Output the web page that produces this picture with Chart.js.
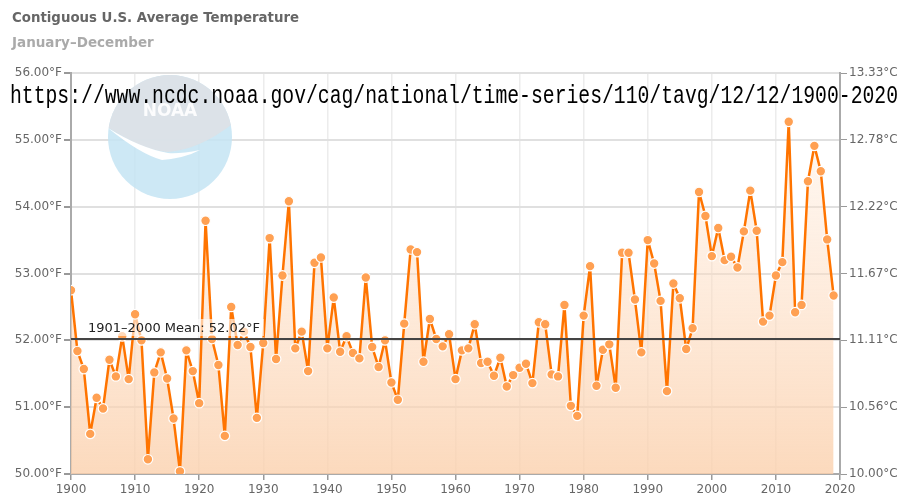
<!DOCTYPE html>
<html>
<head>
<meta charset="utf-8">
<script src="https://cdn.jsdelivr.net/npm/chart.js@4.4.1/dist/chart.umd.min.js"></script>
<style>
  html, body { margin: 0; padding: 0; background: #fff; }
  #wrap { width: 911px; height: 496px; }
</style>
</head>
<body>
<div id="wrap"><canvas id="tempChart" width="911" height="496"></canvas></div>
<script>
// Contiguous U.S. annual average temperature (°F), 1900-2019
const years = [];
for (let y = 1900; y <= 2019; y++) years.push(y);

const tempsF = [
  52.75, 51.84, 51.57, 50.60, 51.14, 50.98, 51.71, 51.46, 52.06, 51.42,
  52.39, 52.00, 50.22, 51.52, 51.82, 51.43, 50.83, 50.04, 51.85, 51.54,
  51.06, 53.79, 52.02, 51.63, 50.57, 52.50, 51.93, 52.13, 51.90, 50.84,
  51.96, 53.53, 51.72, 52.97, 54.08, 51.88, 52.13, 51.54, 53.16, 53.24,
  51.88, 52.64, 51.83, 52.06, 51.81, 51.73, 52.94, 51.90, 51.60, 52.00,
  51.37, 51.11, 52.25, 53.36, 53.32, 51.68, 52.32, 52.02, 51.91, 52.09,
  51.42, 51.85, 51.88, 52.24, 51.66, 51.68, 51.47, 51.74, 51.31, 51.48,
  51.59, 51.65, 51.36, 52.27, 52.24, 51.49, 51.46, 52.53, 51.02, 50.87,
  52.37, 53.11, 51.32, 51.86, 51.94, 51.29, 53.31, 53.31, 52.61, 51.82,
  53.50, 53.15, 52.59, 51.24, 52.85, 52.63, 51.87, 52.18, 54.22, 53.86,
  53.26, 53.68, 53.20, 53.25, 53.09, 53.63, 54.24, 53.64, 52.28, 52.37,
  52.97, 53.17, 55.27, 52.42, 52.53, 54.38, 54.91, 54.53, 53.51, 52.67
];

const meanF = 52.02;
const meanLabel = '1901–2000 Mean: 52.02°F';
const xTicks = [1900, 1910, 1920, 1930, 1940, 1950, 1960, 1970, 1980, 1990, 2000, 2010, 2020];
const yTicksF = [50, 51, 52, 53, 54, 55, 56];

const titleText = 'Contiguous U.S. Average Temperature';
const subtitleText = 'January–December';
const sourceUrl = 'https://www.ncdc.noaa.gov/cag/national/time-series/110/tavg/12/12/1900-2020';

const FONT = '"DejaVu Sans", sans-serif';

function toC(f) {
  return ((f - 32) * 5 / 9).toFixed(2) + '°C';
}

// watermark logo behind the line
const logoPlugin = {
  id: 'logo',
  beforeDatasetsDraw(chart) {
    const ctx = chart.ctx;
    const cx = 170, cy = 137, r = 62;
    ctx.save();
    ctx.beginPath();
    ctx.arc(cx, cy, r, 0, Math.PI * 2);
    ctx.fillStyle = 'rgba(196,228,243,0.85)';
    ctx.fill();
    ctx.clip();
    // upper grey part
    ctx.beginPath();
    ctx.moveTo(100, 122);
    ctx.quadraticCurveTo(140, 150, 168, 152);
    ctx.quadraticCurveTo(200, 150, 235, 122);
    ctx.lineTo(235, 60);
    ctx.lineTo(100, 60);
    ctx.closePath();
    ctx.fillStyle = 'rgba(220,225,231,0.95)';
    ctx.fill();
    // bird
    ctx.beginPath();
    ctx.moveTo(108, 128);
    ctx.quadraticCurveTo(140, 154, 162, 160);
    ctx.quadraticCurveTo(185, 158, 200, 150);
    ctx.quadraticCurveTo(180, 154, 168, 153);
    ctx.quadraticCurveTo(140, 148, 108, 128);
    ctx.fillStyle = '#ffffff';
    ctx.fill();
    ctx.font = 'bold 17px ' + FONT;
    ctx.textAlign = 'center';
    ctx.textBaseline = 'middle';
    ctx.fillStyle = 'rgba(255,255,255,0.9)';
    ctx.fillText('NOAA', cx, 112);
    ctx.restore();
  }
};

// mean line, titles and the source url
const overlayPlugin = {
  id: 'overlay',
  afterDatasetsDraw(chart) {
    const ctx = chart.ctx;
    const area = chart.chartArea;
    const y = chart.scales.y.getPixelForValue(meanF);
    ctx.save();
    ctx.strokeStyle = '#444';
    ctx.lineWidth = 2;
    ctx.beginPath();
    ctx.moveTo(area.left, y);
    ctx.lineTo(area.right, y);
    ctx.stroke();

    ctx.font = '13px ' + FONT;
    const w = ctx.measureText(meanLabel).width;
    ctx.fillStyle = 'rgba(255,255,255,0.6)';
    ctx.fillRect(86, y - 20, w + 6, 17);
    ctx.fillStyle = '#222';
    ctx.textBaseline = 'alphabetic';
    ctx.fillText(meanLabel, 88, y - 7);
    ctx.restore();
  },
  afterDraw(chart) {
    const ctx = chart.ctx;
    ctx.save();
    ctx.textBaseline = 'alphabetic';
    ctx.font = 'bold 14px ' + FONT;
    ctx.fillStyle = '#666';
    ctx.fillText(titleText, 12, 22, 287);
    ctx.font = 'bold 13.5px ' + FONT;
    ctx.fillStyle = '#aaa';
    ctx.fillText(subtitleText, 12, 47, 143);

    ctx.font = '25px "Liberation Mono", monospace';
    ctx.fillStyle = '#000';
    ctx.fillText(sourceUrl, 10, 103, 888);
    ctx.restore();
  }
};

const ctx = document.getElementById('tempChart').getContext('2d');

const points = years.map((yr, i) => ({ x: yr, y: tempsF[i] }));

const tempChart = new Chart(ctx, {
  type: 'line',
  data: {
    datasets: [{
      label: 'Average Temperature',
      data: points,
      borderColor: '#ff7400',
      borderWidth: 2.5,
      borderJoinStyle: 'round',
      tension: 0,
      pointRadius: 4.8,
      pointBackgroundColor: '#ffa052',
      pointBorderColor: '#ffffff',
      pointBorderWidth: 1.2,
      fill: 'start',
      backgroundColor: function (context) {
        const a = context.chart.chartArea;
        if (!a) return 'rgba(252,210,175,0.5)';
        const g = context.chart.ctx.createLinearGradient(0, a.top, 0, a.bottom);
        g.addColorStop(0, 'rgba(255,230,210,0.2)');
        g.addColorStop(1, 'rgba(251,208,172,0.8)');
        return g;
      }
    }]
  },
  options: {
    responsive: false,
    animation: false,
    layout: { padding: { top: 73, left: 0, right: 0, bottom: 0 } },
    plugins: {
      legend: { display: false },
      tooltip: { enabled: false }
    },
    scales: {
      x: {
        type: 'linear',
        min: 1900,
        max: 2020,
        afterBuildTicks: scale => { scale.ticks = xTicks.map(v => ({ value: v })); },
        afterFit: scale => { scale.height = 22; },
        grid: { color: '#ececec', tickColor: '#999', tickLength: 6, lineWidth: 1.5 },
        border: { color: '#aaa', width: 2 },
        ticks: {
          color: '#666',
          font: { family: FONT, size: 12 },
          padding: 3,
          maxRotation: 0,
          callback: v => String(v)
        }
      },
      y: {
        position: 'left',
        min: 50,
        max: 56,
        afterBuildTicks: scale => { scale.ticks = yTicksF.map(v => ({ value: v })); },
        afterFit: scale => { scale.width = 71; },
        grid: { color: '#e0e0e0', tickColor: '#999', tickLength: 7, lineWidth: 2 },
        border: { color: '#aaa', width: 2 },
        ticks: {
          color: '#666',
          font: { family: FONT, size: 12 },
          padding: 2,
          callback: v => v.toFixed(2) + '°F'
        }
      },
      y2: {
        position: 'right',
        min: 50,
        max: 56,
        afterBuildTicks: scale => { scale.ticks = yTicksF.map(v => ({ value: v })); },
        afterFit: scale => { scale.width = 71; },
        grid: { drawOnChartArea: false, tickColor: '#999', tickLength: 7 },
        border: { color: '#aaa', width: 2 },
        ticks: {
          color: '#666',
          font: { family: FONT, size: 12 },
          padding: 2,
          callback: v => toC(v)
        }
      }
    }
  },
  plugins: [logoPlugin, overlayPlugin]
});
</script>
</body>
</html>
